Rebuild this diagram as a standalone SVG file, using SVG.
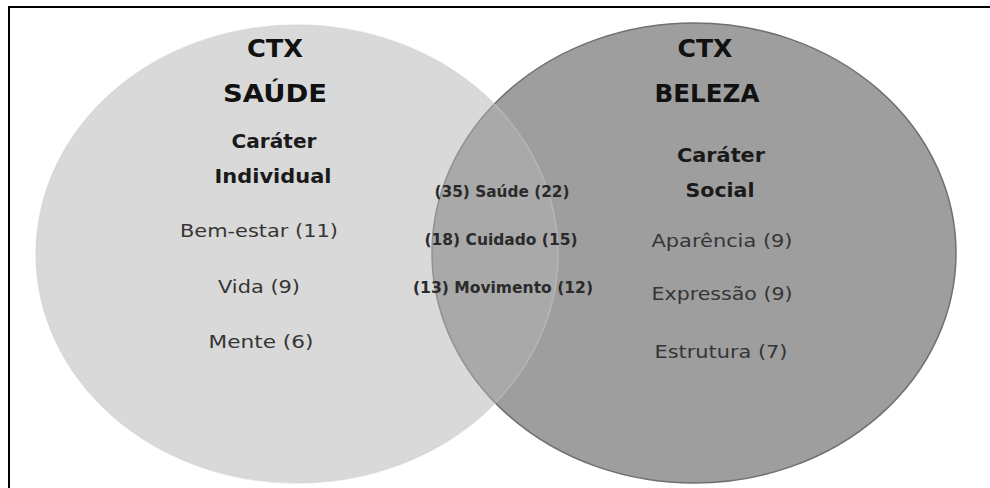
<svg xmlns="http://www.w3.org/2000/svg" width="990" height="488" viewBox="0 0 990 488">
<style>
.h1{font-family:"DejaVu Sans","Liberation Sans",sans-serif;font-weight:bold;font-size:25px;fill:#111;text-anchor:middle}
.h2{font-family:"DejaVu Sans","Liberation Sans",sans-serif;font-weight:bold;font-size:19px;fill:#1a1a1a;text-anchor:middle}
.it{font-family:"DejaVu Sans","Liberation Sans",sans-serif;font-size:18px;fill:#353535;text-anchor:middle}
.mid{font-family:"DejaVu Sans","Liberation Sans",sans-serif;font-weight:bold;font-size:15px;fill:#2a2a2a;text-anchor:middle}
</style>
<rect x="0" y="0" width="990" height="488" fill="#ffffff"/>
<g id="moldura" fill="none" stroke="#000" stroke-width="2">
<line x1="9" y1="7" x2="990" y2="7"/>
<line x1="9" y1="6" x2="9" y2="488"/>
</g>
<g id="beleza">
<ellipse cx="694" cy="253" rx="262" ry="230" fill="#9e9e9e" stroke="#707070" stroke-width="1.5"/>
<text class="h1" x="705" y="57" textLength="55" lengthAdjust="spacingAndGlyphs">CTX</text>
<text class="h1" x="707" y="102" textLength="105" lengthAdjust="spacingAndGlyphs">BELEZA</text>
<text class="h2" x="721" y="162" textLength="88" lengthAdjust="spacingAndGlyphs">Caráter</text>
<text class="h2" x="720" y="197" textLength="69" lengthAdjust="spacingAndGlyphs">Social</text>
<text class="it" x="722" y="247" textLength="141" lengthAdjust="spacingAndGlyphs">Aparência (9)</text>
<text class="it" x="722" y="300" textLength="141" lengthAdjust="spacingAndGlyphs">Expressão (9)</text>
<text class="it" x="721" y="358" textLength="133" lengthAdjust="spacingAndGlyphs">Estrutura (7)</text>
</g>
<g id="saude">
<ellipse cx="297" cy="254" rx="261" ry="229" fill="#b3b3b3" fill-opacity="0.5" stroke="#cccccc" stroke-opacity="0.45" stroke-width="1.5"/>
<text class="h1" x="275" y="57" textLength="56" lengthAdjust="spacingAndGlyphs">CTX</text>
<text class="h1" x="275" y="102" textLength="104" lengthAdjust="spacingAndGlyphs">SAÚDE</text>
<text class="h2" x="274" y="148" textLength="85" lengthAdjust="spacingAndGlyphs">Caráter</text>
<text class="h2" x="273" y="183" textLength="117" lengthAdjust="spacingAndGlyphs">Individual</text>
<text class="it" x="259" y="237" textLength="158" lengthAdjust="spacingAndGlyphs">Bem-estar (11)</text>
<text class="it" x="259" y="293" textLength="82" lengthAdjust="spacingAndGlyphs">Vida (9)</text>
<text class="it" x="261" y="348" textLength="105" lengthAdjust="spacingAndGlyphs">Mente (6)</text>
</g>
<g id="intersecao">
<text class="mid" x="502" y="197" textLength="135" lengthAdjust="spacingAndGlyphs">(35) Saúde (22)</text>
<text class="mid" x="501" y="245" textLength="153" lengthAdjust="spacingAndGlyphs">(18) Cuidado (15)</text>
<text class="mid" x="503" y="293" textLength="180" lengthAdjust="spacingAndGlyphs">(13) Movimento (12)</text>
</g>
</svg>
